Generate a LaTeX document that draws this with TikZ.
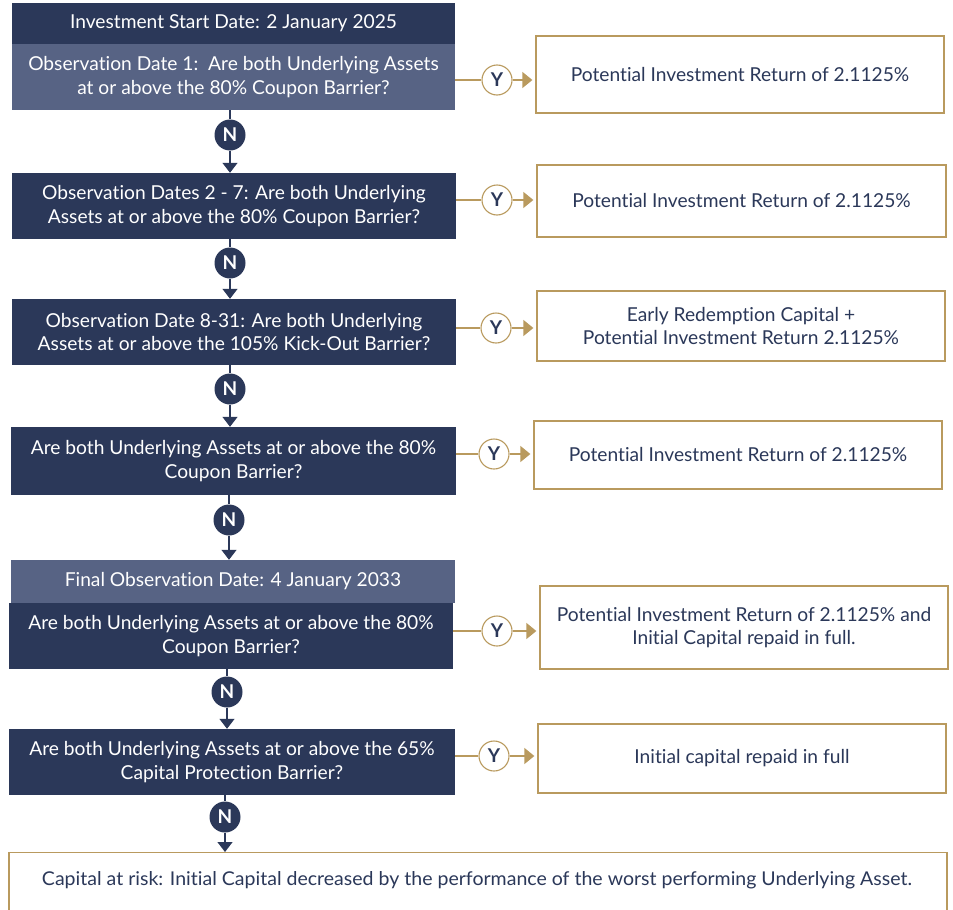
\documentclass[tikz,border=0pt]{standalone}
\usepackage{fontspec}
\setmainfont{Lato}[Ligatures=NoCommon]
\usetikzlibrary{arrows.meta}
\definecolor{navy}{HTML}{2B3859}
\definecolor{slate}{HTML}{576384}
\definecolor{gold}{HTML}{B99A5E}
\tikzset{
  qbox/.style={rectangle, fill=navy, text=white, align=center, inner sep=0pt, font=\fontsize{19.2}{23.5}\selectfont},
  hbox/.style={qbox, fill=slate},
  rbox/.style={rectangle, draw=gold, line width=1.3pt, fill=white, text=navy, align=center, inner sep=0pt, font=\fontsize{19.2}{23.5}\selectfont},
  ncirc/.style={circle, fill=navy, text=white, minimum size=31pt, inner sep=0pt, font=\fontsize{19}{19}\selectfont\bfseries},
  ycirc/.style={circle, draw=gold, line width=1.1pt, fill=white, text=navy, minimum size=30pt, inner sep=0pt, font=\fontsize{19}{19}\selectfont\bfseries},
  nline/.style={draw=navy, line width=1.3pt},
  narrow/.style={nline, -{Triangle[length=10pt,width=15pt]}},
  yline/.style={draw=gold, line width=1.3pt},
  yarrow/.style={yline, -{Triangle[length=10pt,width=16pt]}},
}
\begin{document}
\begin{tikzpicture}[x=1pt,y=-1pt]
\useasboundingbox (0,0) rectangle (953,910);
\clip (0,0) rectangle (953,910);
% main column
\node[qbox, minimum width=443pt, minimum height=41pt] (h1) at (233.5,23.5) {Investment Start Date: 2 January 2025};
\node[hbox, minimum width=443pt, minimum height=66pt] (b1) at (233.5,77) {Observation Date 1:\ \ Are both Underlying Assets\\at or above the 80\% Coupon Barrier?};
\node[qbox, minimum width=444pt, minimum height=66pt] (b2) at (234,206) {Observation Dates 2 - 7: Are both Underlying\\Assets at or above the 80\% Coupon Barrier?};
\node[qbox, minimum width=444pt, minimum height=66pt] (b3) at (234,332) {Observation Date 8-31: Are both Underlying\\Assets at or above the 105\% Kick-Out Barrier?};
\node[qbox, minimum width=445pt, minimum height=68pt] (b4) at (233.5,461) {Are both Underlying Assets at or above the 80\%\\Coupon Barrier?};
\node[hbox, minimum width=444pt, minimum height=43pt] (h5) at (233,581.5) {Final Observation Date: 4 January 2033};
\node[qbox, minimum width=444pt, minimum height=66pt] (b5) at (231,636) {Are both Underlying Assets at or above the 80\%\\Coupon Barrier?};
\node[qbox, minimum width=446pt, minimum height=66pt] (b6) at (232,762) {Are both Underlying Assets at or above the 65\%\\Capital Protection Barrier?};
\node[rbox, minimum width=938pt, minimum height=100pt, anchor=north] (b7) at (478,852) {};
\node[text=navy, font=\fontsize{16.5}{20}\selectfont] (t7) at (477,880) {\resizebox{870pt}{14pt}{Capital at risk: Initial Capital decreased by the performance of the worst performing Underlying Asset.}};
% result boxes
\node[rbox, minimum width=408pt, minimum height=77pt] (r1) at (740,74.5) {Potential Investment Return of 2.1125\%};
\node[rbox, minimum width=409pt, minimum height=72pt] (r2) at (741.5,201) {Potential Investment Return of 2.1125\%};
\node[rbox, minimum width=408pt, minimum height=70pt] (r3) at (741,326) {Early Redemption Capital +\\Potential Investment Return 2.1125\%};
\node[rbox, minimum width=408pt, minimum height=68pt] (r4) at (738,455) {Potential Investment Return of 2.1125\%};
\node[rbox, minimum width=408pt, minimum height=83pt] (r5) at (744,627.5) {Potential Investment Return of 2.1125\% and\\Initial Capital repaid in full.};
\node[rbox, minimum width=408pt, minimum height=69pt] (r6) at (742,758.5) {Initial capital repaid in full};
% Y circles
\node[ycirc] (y1) at (497,80) {Y};
\node[ycirc] (y2) at (497,200) {Y};
\node[ycirc] (y3) at (496,328) {Y};
\node[ycirc] (y4) at (494,454) {Y};
\node[ycirc] (y5) at (497,631) {Y};
\node[ycirc] (y6) at (494,756) {Y};
% N circles
\node[ncirc] (n1) at (230,135) {N};
\node[ncirc] (n2) at (230,263) {N};
\node[ncirc] (n3) at (230,389) {N};
\node[ncirc] (n4) at (229,520) {N};
\node[ncirc] (n5) at (227,692) {N};
\node[ncirc] (n6) at (225,817) {N};
% Y connectors
\foreach \b/\y/\r in {b1/y1/r1, b2/y2/r2, b3/y3/r3, b4/y4/r4, b5/y5/r5, b6/y6/r6}{
  \draw[yline] (\b.east |- \y) -- (\y);
  \draw[yarrow] (\y) -- ([xshift=-3pt]\r.west |- \y);
}
% N connectors
\draw[nline] (b1.south -| n1) -- (n1);
\draw[narrow] (n1) -- (n1 |- b2.north);
\draw[nline] (b2.south -| n2) -- (n2);
\draw[narrow] (n2) -- (n2 |- b3.north);
\draw[nline] (b3.south -| n3) -- (n3);
\draw[narrow] (n3) -- (n3 |- b4.north);
\draw[nline] (b4.south -| n4) -- (n4);
\draw[narrow] (n4) -- (n4 |- h5.north);
\draw[nline] (b5.south -| n5) -- (n5);
\draw[narrow] (n5) -- (n5 |- b6.north);
\draw[nline] (b6.south -| n6) -- (n6);
\draw[narrow] (n6) -- (n6 |- b7.north);
\end{tikzpicture}
\end{document}
